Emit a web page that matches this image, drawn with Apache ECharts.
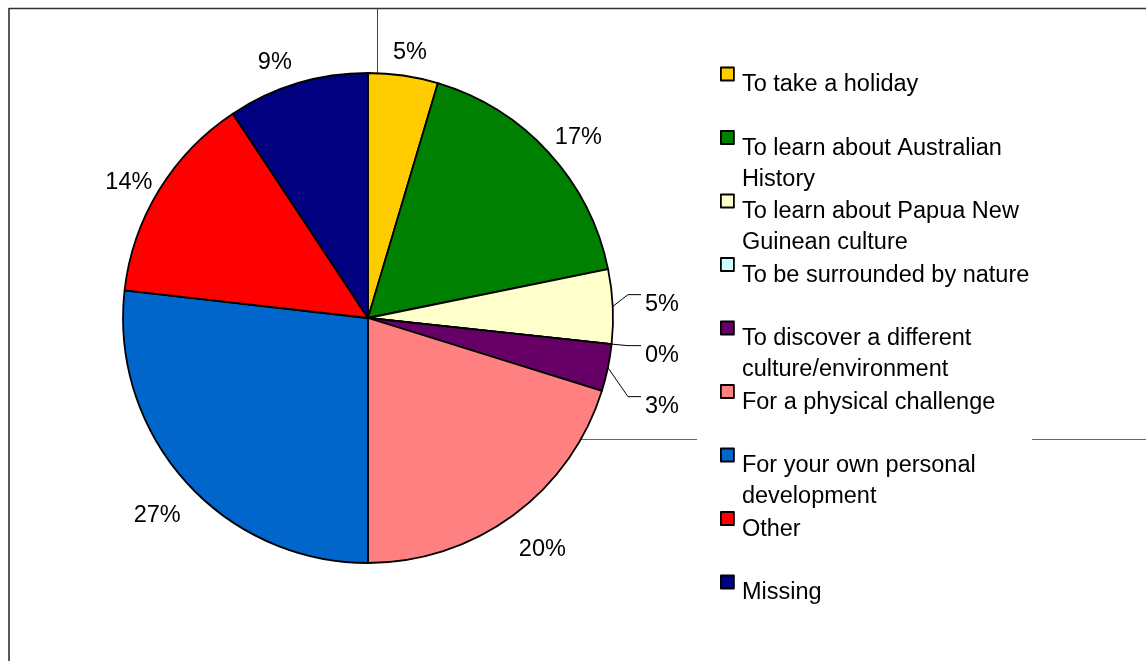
<!DOCTYPE html>
<html>
<head>
<meta charset="utf-8">
<script src="https://cdn.jsdelivr.net/npm/echarts@6/dist/echarts.min.js"></script>
<style>
html,body{margin:0;padding:0;background:#fff;}
#chart{width:1146px;height:661px;}
</style>
</head>
<body>
<div id="chart"></div>
<script>
// Categories (legend order = clockwise slice order from 12 o'clock)
const categories = [
  'To take a holiday',
  'To learn about Australian History',
  'To learn about Papua New Guinean culture',
  'To be surrounded by nature',
  'To discover a different culture/environment',
  'For a physical challenge',
  'For your own personal development',
  'Other',
  'Missing'
];
// Legend text as wrapped in the picture
const legendText = [
  'To take a holiday',
  'To learn about Australian\nHistory',
  'To learn about Papua New\nGuinean culture',
  'To be surrounded by nature',
  'To discover a different\nculture/environment',
  'For a physical challenge',
  'For your own personal\ndevelopment',
  'Other',
  'Missing'
];
// Share of responses (%)
const values = [4.6, 17.2, 4.9, 0, 3.1, 20.2, 26.8, 13.9, 9.3];
// Slice colours
const colors = ['#FFCC00', '#008000', '#FFFFCC', '#CCFFFF', '#660066', '#FF8080', '#0066CC', '#FF0000', '#000080'];
// Slices whose labels use leader lines
const leaderLined = [2, 3, 4];
// Extra radial distance of each (non-leader) label centre beyond the rim, and small angular nudge (deg)
const labelGap = [24, 32, 0, 0, 0, 45, 44, 30, 27];
const labelNudge = [0.7, 1.9, 0, 0, 0, -0.6, -1.4, -1.9, -3.3];

const FONT = "'Liberation Sans', Arial, sans-serif";
const CX = 368, CY = 318, R = 245;

// mid angles of slices (clockwise from 12 o'clock)
const total = values.reduce((a, b) => a + b, 0);
const midAngle = [];
(function () {
  let cum = 0;
  values.forEach(v => { midAngle.push((cum + v / 2) / total * Math.PI * 2); cum += v; });
})();

// leader-lined label positions: natural radial spot, pushed down to keep spacing
const leaderPos = {};
(function () {
  let prevY = -Infinity;
  leaderLined.forEach(i => {
    const a = midAngle[i];
    const natY = CY - (R + 49) * Math.cos(a);
    const y = Math.max(natY, prevY + 51);
    prevY = y;
    leaderPos[i] = {x: CX + R + 32, y: y};
  });
})();

const chart = echarts.init(document.getElementById('chart'), null, {renderer: 'canvas'});

const data = categories.map((name, i) => {
  const item = {name: name, value: values[i], itemStyle: {color: colors[i]}};
  if (leaderLined.indexOf(i) >= 0) {
    item.labelLine = {show: true};
  }
  return item;
});

chart.setOption({
  animation: false,
  backgroundColor: '#fff',
  graphic: [
    {type: 'line', z: -1, shape: {x1: 9, y1: 8.5, x2: 1146, y2: 8.5}, style: {stroke: '#333', lineWidth: 1.5}},
    {type: 'line', z: -1, shape: {x1: 9, y1: 8, x2: 9, y2: 661}, style: {stroke: '#222', lineWidth: 1.5}},
    {type: 'line', z: -1, shape: {x1: 377.5, y1: 8, x2: 377.5, y2: 318}, style: {stroke: '#444', lineWidth: 1}},
    {type: 'line', z: -1, shape: {x1: 368, y1: 439.5, x2: 697, y2: 439.5}, style: {stroke: '#666', lineWidth: 1}},
    {type: 'line', z: -1, shape: {x1: 1032, y1: 439.5, x2: 1146, y2: 439.5}, style: {stroke: '#666', lineWidth: 1}}
  ],
  legend: {
    orient: 'vertical',
    left: 720,
    top: 38,
    padding: 0,
    itemWidth: 13,
    itemHeight: 13,
    itemGap: -26.5,
    icon: 'rect',
    data: categories,
    itemStyle: {borderColor: '#000', borderWidth: 1.8},
    formatter: function (name) {
      const lines = legendText[categories.indexOf(name)].split('\n');
      if (lines.length === 1) lines.push(' ');
      return '{pad| }\n' + lines.map(l => '{t|' + l + '}').join('\n');
    },
    textStyle: {
      fontFamily: FONT,
      fontSize: 23.5,
      color: '#000',
      rich: {
        pad: {lineHeight: 53, fontSize: 10},
        t: {lineHeight: 31, fontSize: 23.5, fontFamily: FONT, color: '#000', padding: [0, 0, 0, 3]}
      }
    }
  },
  series: [{
    type: 'pie',
    center: [CX, CY],
    radius: R,
    startAngle: 90,
    clockwise: true,
    avoidLabelOverlap: false,
    emphasis: {scale: false},
    itemStyle: {borderColor: '#000', borderWidth: 1.8},
    label: {
      show: true,
      position: 'outside',
      fontFamily: FONT,
      fontSize: 23.5,
      color: '#000',
      formatter: p => Math.round(p.percent) + '%'
    },
    labelLine: {show: false, length: 15, length2: 10, lineStyle: {color: '#000', width: 1}},
    labelLayout: function (params) {
      const i = params.dataIndex;
      const a = midAngle[i];
      if (leaderPos[i]) {
        const dx = Math.sin(a), dy = -Math.cos(a);
        const p = leaderPos[i];
        const ly = p.y - 9.5;
        return {
          x: p.x, y: p.y, align: 'left', verticalAlign: 'middle',
          labelLinePoints: [[CX + R * dx, CY + R * dy], [p.x - 17, ly], [p.x - 4, ly]]
        };
      }
      const b = a + labelNudge[i] * Math.PI / 180;
      const d = R + labelGap[i];
      return {x: CX + d * Math.sin(b), y: CY - d * Math.cos(b), align: 'center', verticalAlign: 'middle'};
    },
    data: data
  }]
});
</script>
</body>
</html>
